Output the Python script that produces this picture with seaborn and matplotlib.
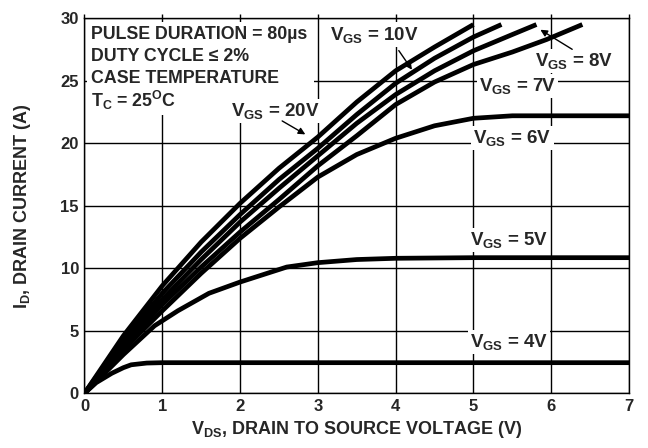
import matplotlib
matplotlib.use("Agg")
import matplotlib.pyplot as plt
from matplotlib.patches import Rectangle
import seaborn as sns
import pandas as pd

# Curves (VDS in V, ID in A)
vds_20 = [0, 0.5, 1, 1.5, 2, 2.5, 3, 3.5, 4, 4.5, 5]
id_20 = [0, 4.6, 8.6, 12.1, 15.2, 18.0, 20.5, 23.3, 25.8, 27.7, 29.5]

vds_10 = [0, 0.5, 1, 1.5, 2, 2.5, 3, 3.5, 4, 4.5, 5, 5.36]
id_10 = [0, 4.3, 8.0, 11.3, 14.3, 17.1, 19.6, 22.3, 24.8, 26.8, 28.5, 29.5]

vds_8 = [0, 0.5, 1, 1.5, 2, 2.5, 3, 3.5, 4, 4.5, 5, 5.5, 5.81]
id_8 = [0, 4.0, 7.5, 10.7, 13.7, 16.4, 19.0, 21.6, 23.9, 25.8, 27.4, 28.7, 29.5]

vds_7 = [0, 0.5, 1, 1.5, 2, 2.5, 3, 3.5, 4, 4.5, 5, 5.5, 5.94, 6.4]
id_7 = [0, 3.8, 7.1, 10.1, 12.9, 15.5, 18.2, 20.6, 23.1, 24.9, 26.3, 27.3, 28.3, 29.5]

vds_6 = [0, 0.5, 1, 1.5, 2, 2.5, 3, 3.5, 4, 4.5, 5, 5.5, 6, 7]
id_6 = [0, 3.5, 6.6, 9.6, 12.4, 14.9, 17.3, 19.1, 20.4, 21.4, 22.0, 22.2, 22.2, 22.2]

vds_5 = [0, 0.5, 0.9, 1.2, 1.6, 2, 2.3, 2.6, 3, 3.5, 4, 5, 6, 7]
id_5 = [0, 3.1, 5.4, 6.6, 8.0, 8.9, 9.5, 10.1, 10.45, 10.7, 10.8, 10.85, 10.85, 10.85]

vds_4 = [0, 0.15, 0.35, 0.5, 0.6, 0.8, 1, 2, 3, 4, 5, 6, 7]
id_4 = [0, 0.85, 1.6, 2.05, 2.28, 2.42, 2.45, 2.45, 2.45, 2.45, 2.45, 2.45, 2.45]

x_ticks = [0, 1, 2, 3, 4, 5, 6, 7]
y_ticks = [0, 5, 10, 15, 20, 25, 30]

conditions = ["PULSE DURATION = 80\u00b5s", "DUTY CYCLE \u2264 2%", "CASE TEMPERATURE",
              r"$\mathregular{T_C}$ = 25$\mathregular{^O}$C"]

curves = {"20V": (vds_20, id_20), "10V": (vds_10, id_10), "8V": (vds_8, id_8),
          "7V": (vds_7, id_7), "6V": (vds_6, id_6), "5V": (vds_5, id_5),
          "4V": (vds_4, id_4)}
df = pd.concat([pd.DataFrame({"vds": v, "id": i, "vgs": k})
                for k, (v, i) in curves.items()], ignore_index=True)

sns.set_style("white")
plt.rcParams["font.family"] = ["Liberation Sans", "DejaVu Sans"]
plt.rcParams["font.weight"] = "bold"
plt.rcParams["mathtext.fontset"] = "custom"
plt.rcParams["mathtext.rm"] = "Liberation Sans:bold"
plt.rcParams["mathtext.it"] = "Liberation Sans:bold"
plt.rcParams["mathtext.bf"] = "Liberation Sans:bold"

fig = plt.figure(figsize=(6.48, 4.48), dpi=100)
ax = fig.add_axes([0.1304, 0.1221, 0.8403, 0.8371])

sns.lineplot(data=df, x="vds", y="id", hue="vgs", palette=["black"] * 7,
             estimator=None, sort=False, lw=3.4, legend=False, ax=ax,
             zorder=3)
for ln in ax.lines:
    ln.set_solid_capstyle("butt")

ax.set_xlim(0, 7)
ax.set_ylim(0, 30)
ax.set_xticks(x_ticks)
ax.set_yticks(y_ticks)
ax.grid(True, color="black", lw=1.0)
ax.set_axisbelow(True)
for s in ax.spines.values():
    s.set_color("black")
    s.set_linewidth(1.0)
ax.tick_params(axis="both", labelsize=12, pad=1, length=3, width=1,
               direction="out", color="black")
ax.tick_params(axis="x", top=True, bottom=False, pad=1)
for lab in ax.get_xticklabels() + ax.get_yticklabels():
    lab.set_fontweight("bold")

ax.set_xlabel(r"$\mathregular{V_{DS}}$, DRAIN TO SOURCE VOLTAGE (V)",
              fontsize=13, fontweight="bold", labelpad=4)
ax.set_ylabel(r"$\mathregular{I_D}$, DRAIN CURRENT (A)",
              fontsize=13, fontweight="bold", labelpad=20)

# white backing behind the test conditions block
ax.add_patch(Rectangle((0.03, 22.3), 2.92, 7.4, facecolor="white",
                       edgecolor="none", zorder=1.5))
for k, line in enumerate(conditions):
    ax.text(0.085, 28.7 - 1.77 * k, line, fontsize=12.8, fontweight="bold",
            ha="left", va="center", zorder=2)

box = dict(facecolor="white", edgecolor="none", pad=1.5)
labels = [("10V", 3.73, 28.7), ("20V", 2.46, 22.6), ("8V", 6.29, 26.6),
          ("7V", 5.57, 24.6), ("6V", 5.5, 20.4), ("5V", 5.46, 12.25),
          ("4V", 5.46, 4.1)]
for v, x, y in labels:
    ax.text(x, y, r"$\mathregular{V_{GS}}$ = " + v, fontsize=13.5,
            fontweight="bold", ha="center", va="center", bbox=box, zorder=2)

arrow = dict(arrowstyle="-|>", color="black", lw=1, mutation_scale=10)
ax.annotate("", xy=(4.23, 25.7), xytext=(4.02, 27.6), arrowprops=arrow, zorder=4)
ax.annotate("", xy=(2.87, 20.6), xytext=(2.51, 21.9), arrowprops=arrow, zorder=4)
ax.annotate("", xy=(5.83, 29.2), xytext=(6.3, 27.4), arrowprops=arrow, zorder=4)

fig.savefig("out.png", dpi=100)
